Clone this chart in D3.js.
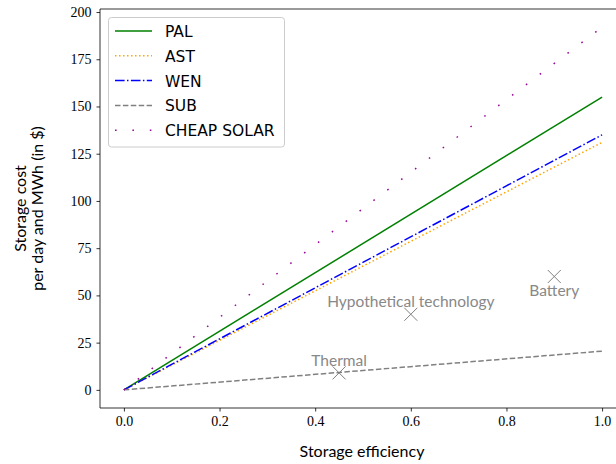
<!DOCTYPE html>
<html>
<head>
<meta charset="utf-8">
<script src="https://cdn.jsdelivr.net/npm/d3@7"></script>
<style>
body { margin: 0; background: #fff; }
svg { display: block; }
</style>
</head>
<body>
<svg id="chart" width="616" height="464"></svg>
<script>
// Data
const seriesNames = ["PAL", "AST", "WEN", "SUB", "CHEAP SOLAR"];
const seriesEndValues = [155, 131, 135, 20.5, 192]; // cost at efficiency 1.0 (lines from origin)
const seriesStartValues = [0, 0, 0, 0, 0];
const xTicks = [0.0, 0.2, 0.4, 0.6, 0.8, 1.0];
const yTicks = [0, 25, 50, 75, 100, 125, 150, 175, 200];
const techNames = ["Thermal", "Hypothetical technology", "Battery"];
const techEfficiency = [0.45, 0.6, 0.9];
const techCost = [9, 40, 60];

const colors = ["#008000", "#ffa500", "#0000ff", "#808080", "#9a0a9a"];
const dashes = [null, "1.5,2.5", "9.6,2.4,1.5,2.4", "5.5,2.4", "1.6,15.8"];

const svg = d3.select("#chart");
const pLeft = 100, pRight = 626, pTop = 9, pBottom = 408;
const x = d3.scaleLinear().domain([-0.05, 1.05]).range([pLeft, pRight]);
const y = d3.scaleLinear().domain([-9.6, 201.6]).range([pBottom, pTop]);

const serif = "'Liberation Serif', 'DejaVu Serif', serif";
const sans = "Lato, 'Open Sans', sans-serif";

// Lines
const line = d3.line().x(d => x(d[0])).y(d => y(d[1]));
seriesNames.forEach((n, i) => {
  svg.append("path")
    .datum([[0, seriesStartValues[i]], [1, seriesEndValues[i]]])
    .attr("d", line)
    .attr("fill", "none")
    .attr("stroke", colors[i])
    .attr("stroke-width", 1.5)
    .attr("stroke-dasharray", dashes[i]);
});

// Technology markers
const ms = 6.5;
techNames.forEach((n, i) => {
  const cx = x(techEfficiency[i]), cy = y(techCost[i]);
  svg.append("path")
    .attr("d", `M${cx-ms},${cy-ms}L${cx+ms},${cy+ms}M${cx-ms},${cy+ms}L${cx+ms},${cy-ms}`)
    .attr("stroke", "#808080").attr("stroke-width", 1).attr("fill", "none");
});
const labelDy = [-7, -7, 19];
techNames.forEach((n, i) => {
  svg.append("text")
    .attr("x", x(techEfficiency[i]))
    .attr("y", y(techCost[i]) + labelDy[i])
    .attr("text-anchor", "middle")
    .attr("font-family", sans)
    .attr("font-size", 15.5)
    .attr("fill", "#888888")
    .text(n);
});

// Axes spines
svg.append("line").attr("x1", pLeft).attr("x2", pLeft).attr("y1", pTop).attr("y2", pBottom)
  .attr("stroke", "#000").attr("stroke-width", 0.8);
svg.append("line").attr("x1", pLeft).attr("x2", pRight).attr("y1", pBottom).attr("y2", pBottom)
  .attr("stroke", "#000").attr("stroke-width", 0.8);
svg.append("line").attr("x1", pLeft).attr("x2", pRight).attr("y1", pTop).attr("y2", pTop)
  .attr("stroke", "#000").attr("stroke-width", 0.8);

// X axis
const xAxis = svg.append("g").attr("transform", `translate(0,${pBottom})`)
  .call(d3.axisBottom(x).tickValues(xTicks).tickFormat(d3.format(".1f")).tickSize(3.5).tickPadding(5));
xAxis.select(".domain").remove();
xAxis.selectAll("text").attr("font-family", serif).attr("font-size", 14).attr("fill", "#000");
xAxis.selectAll("line").attr("stroke-width", 0.8);

// Y axis
const yAxis = svg.append("g").attr("transform", `translate(${pLeft},0)`)
  .call(d3.axisLeft(y).tickValues(yTicks).tickFormat(d3.format("d")).tickSize(3.5).tickPadding(5));
yAxis.select(".domain").remove();
yAxis.selectAll("text").attr("font-family", serif).attr("font-size", 14).attr("fill", "#000");
yAxis.selectAll("line").attr("stroke-width", 0.8);

// Axis labels
svg.append("text").attr("x", 362).attr("y", 457)
  .attr("text-anchor", "middle").attr("font-family", sans).attr("font-size", 16)
  .text("Storage efficiency");
const yl = svg.append("text").attr("transform", `translate(0,${(pTop + pBottom) / 2}) rotate(-90)`)
  .attr("text-anchor", "middle").attr("font-family", sans).attr("font-size", 16);
yl.append("tspan").attr("x", 0).attr("y", 26).text("Storage cost");
yl.append("tspan").attr("x", 0).attr("y", 43).text("per day and MWh (in $)");

// Legend
const lg = svg.append("g");
lg.append("rect").attr("x", 108.5).attr("y", 17.5).attr("width", 176).attr("height", 129.5)
  .attr("rx", 3).attr("fill", "#fff").attr("fill-opacity", 0.8)
  .attr("stroke", "#cccccc").attr("stroke-width", 1);
seriesNames.forEach((n, i) => {
  const ly = 31 + i * 24.8;
  lg.append("line").attr("x1", 115).attr("x2", 152).attr("y1", ly).attr("y2", ly)
    .attr("stroke", colors[i]).attr("stroke-width", 1.5)
    .attr("stroke-dasharray", dashes[i]);
  lg.append("text").attr("x", 165).attr("y", ly + 6)
    .attr("font-family", "'DejaVu Sans', sans-serif").attr("font-size", 15.5)
    .text(n);
});
</script>
</body>
</html>
